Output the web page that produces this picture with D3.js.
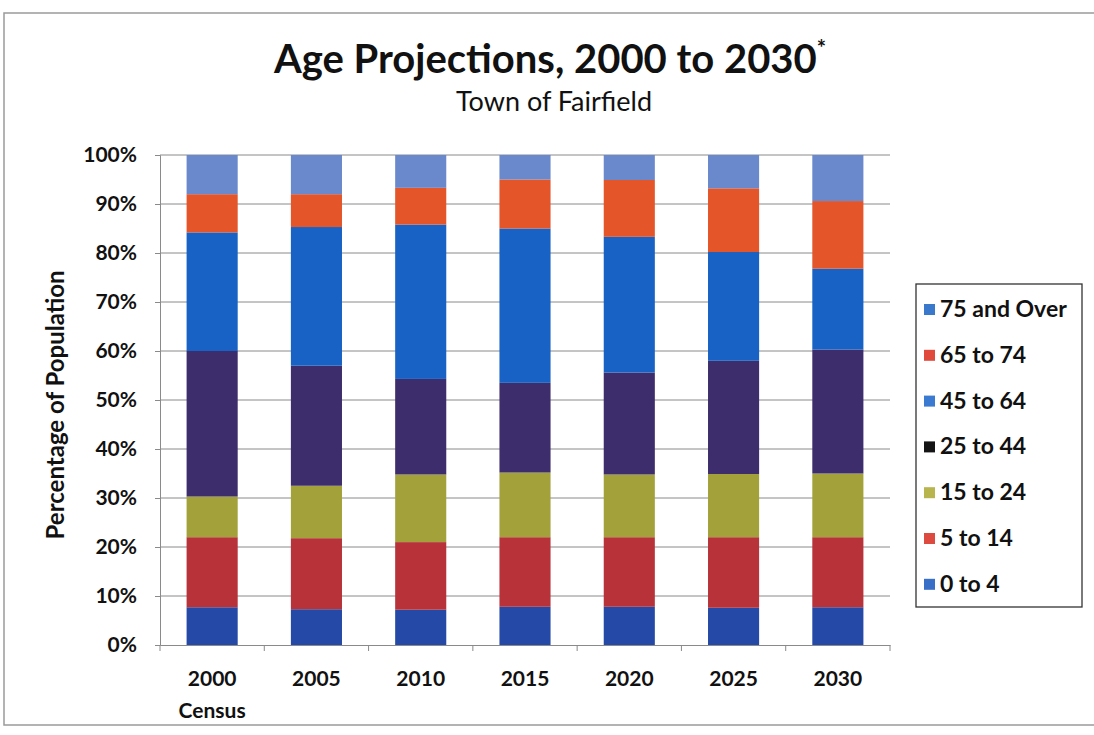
<!DOCTYPE html>
<html><head><meta charset="utf-8">
<script src="https://cdn.jsdelivr.net/npm/d3@7"></script>
<style>
html,body{margin:0;padding:0;background:#fff;}
svg{display:block;}
text{font-family:Lato,"Open Sans",sans-serif;fill:#111;}
</style></head>
<body>
<svg id="chart" width="1094" height="735"></svg>
<script>
const categories = ["2000|Census","2005","2010","2015","2020","2025","2030"];
const seriesNames = ["0 to 4","5 to 14","15 to 24","25 to 44","45 to 64","65 to 74","75 and Over"];
const age0to4    = [7.7, 7.3, 7.2, 7.8, 7.8, 7.6, 7.7];
const age5to14   = [14.3, 14.5, 13.8, 14.2, 14.2, 14.4, 14.3];
const age15to24  = [8.3, 10.7, 13.8, 13.2, 12.8, 12.9, 13.0];
const age25to44  = [29.7, 24.5, 19.5, 18.3, 20.8, 23.1, 25.3];
const age45to64  = [24.2, 28.3, 31.5, 31.5, 27.7, 22.2, 16.5];
const age65to74  = [7.8, 6.7, 7.5, 10.0, 11.6, 13.0, 13.8];
const age75plus  = [8.0, 8.0, 6.7, 5.0, 5.1, 6.8, 9.4];
const yTicks = [0,10,20,30,40,50,60,70,80,90,100];
const barColors = ["#2449a6","#b8323a","#a3a23a","#3d2d6c","#1762c4","#e4552a","#6a88cc"];
const legendColors = ["#3a6fc8","#dc4a40","#b8b44e","#141414","#3a7ad0","#e04a3c","#3a78cc"];

const seriesValues = [age0to4, age5to14, age15to24, age25to44, age45to64, age65to74, age75plus];
const rows = categories.map((c,i)=>{
  const r = {cat:c};
  seriesNames.forEach((s,j)=>{ r[s] = seriesValues[j][i]; });
  return r;
});

const svg = d3.select("#chart");
svg.append("rect").attr("x",4).attr("y",13).attr("width",1100).attr("height",712)
  .attr("fill","none").attr("stroke","#9a9a9a").attr("stroke-width",1.5);

const pL = 160, pR = 890, pT = 155, pB = 645;
const x = d3.scaleBand().domain(categories).range([pL,pR]).padding(0);
const y = d3.scaleLinear().domain([0,100]).range([pB,pT]);
const barW = x.bandwidth()*0.49;

svg.append("g").selectAll("line").data(yTicks.filter(d=>d>0)).join("line")
  .attr("x1",pL).attr("x2",pR).attr("y1",d=>y(d)).attr("y2",d=>y(d))
  .attr("stroke","#8a8a8a").attr("stroke-width",1);

const stack = d3.stack().keys(seriesNames)(rows);
svg.append("g").selectAll("g").data(stack).join("g")
  .attr("fill",(d,i)=>barColors[i])
  .selectAll("rect").data(d=>d).join("rect")
  .attr("x",d=>x(d.data.cat)+(x.bandwidth()-barW)/2)
  .attr("width",barW)
  .attr("y",d=>y(d[1]))
  .attr("height",d=>y(d[0])-y(d[1]));

const yAxis = svg.append("g").attr("transform",`translate(${pL},0)`)
  .call(d3.axisLeft(y).tickValues(yTicks).tickFormat(d=>d+"%").tickSize(5).tickPadding(18));
yAxis.select(".domain").attr("stroke","#8a8a8a");
yAxis.selectAll(".tick line").attr("stroke","#8a8a8a");
yAxis.selectAll("text").attr("font-size",21).attr("font-weight","bold").attr("fill","#111")
  .attr("font-family","Lato,sans-serif");

const xAxis = svg.append("g").attr("transform",`translate(0,${pB})`)
  .call(d3.axisBottom(x).tickSize(0).tickFormat(""));
xAxis.select(".domain").attr("stroke","#8a8a8a");
xAxis.selectAll(".tick line").remove();
svg.append("g").selectAll("line").data(d3.range(categories.length+1)).join("line")
  .attr("x1",i=>pL+i*x.step()).attr("x2",i=>pL+i*x.step())
  .attr("y1",pB).attr("y2",pB+6).attr("stroke","#8a8a8a");
const xl = svg.append("g").selectAll("text").data(categories).join("text")
  .attr("x",d=>x(d)+x.bandwidth()/2).attr("y",686)
  .attr("text-anchor","middle").attr("font-size",21).attr("font-weight","bold");
xl.each(function(d){
  const parts = d.split("|");
  const t = d3.select(this);
  parts.forEach((p,i)=>t.append("tspan").attr("x",x(d)+x.bandwidth()/2).attr("dy",i===0?0:32).text(p));
});

svg.append("text").attr("transform","translate(64,405) rotate(-90)")
  .attr("text-anchor","middle").attr("font-size",24).attr("font-weight","bold")
  .text("Percentage of Population");

const tt = svg.append("text").attr("x",550).attr("y",73).attr("text-anchor","middle")
  .attr("font-size",40).attr("font-weight","bold");
tt.append("tspan").text("Age Projections, 2000 to 2030");
tt.append("tspan").attr("dy",-17).attr("font-size",22).text("*");
svg.append("text").attr("x",554).attr("y",111).attr("text-anchor","middle")
  .attr("font-size",27).text("Town of Fairfield");

svg.append("rect").attr("x",916).attr("y",284).attr("width",166).attr("height",323)
  .attr("fill","#fff").attr("stroke","#333").attr("stroke-width",1.3);
const legOrder = d3.range(seriesNames.length).reverse();
const lg = svg.append("g").selectAll("g").data(legOrder).join("g")
  .attr("transform",(d,i)=>`translate(924,${310+i*45.8})`);
lg.append("rect").attr("x",0).attr("y",-6).attr("width",11).attr("height",11)
  .attr("fill",d=>legendColors[d]);
lg.append("text").attr("x",16).attr("y",7).attr("font-size",23).attr("font-weight","bold")
  .text(d=>seriesNames[d]);
</script>
</body></html>
